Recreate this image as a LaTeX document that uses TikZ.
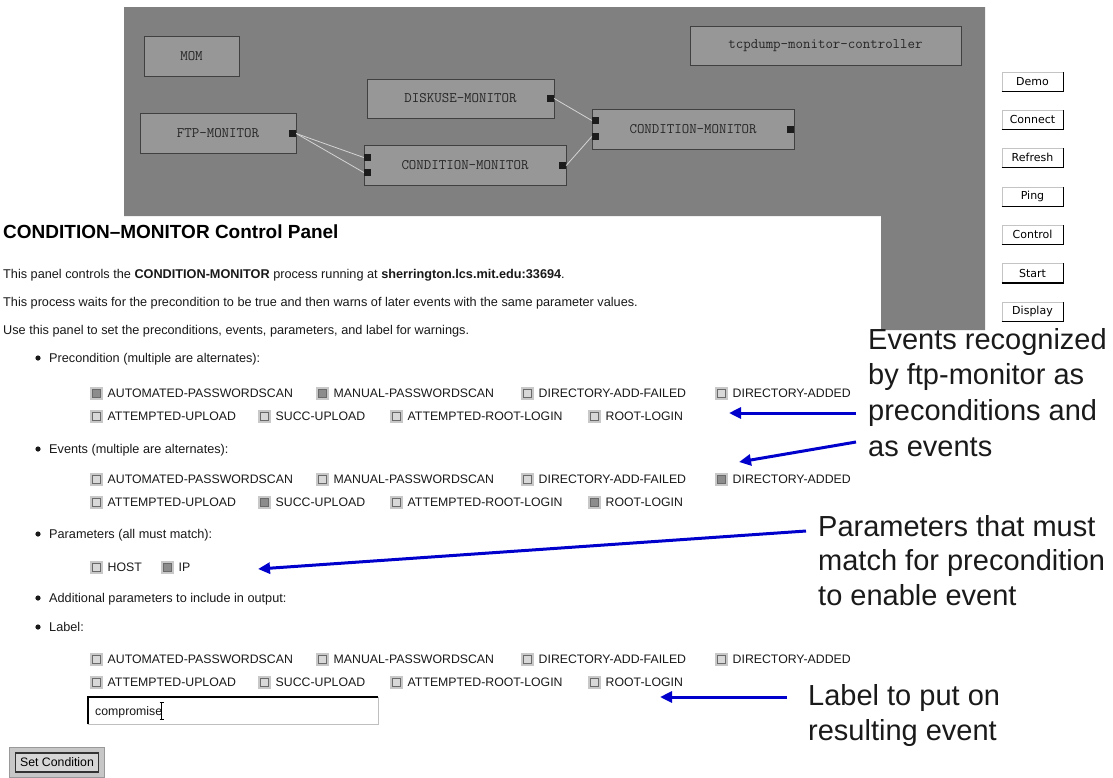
\documentclass[tikz,border=0pt]{standalone}
\usepackage{fontspec}
\setmainfont{Liberation Sans}
\newfontfamily\dejavu{DejaVu Sans}
\usetikzlibrary{arrows.meta}
\definecolor{bggray}{HTML}{808080}
\definecolor{boxfill}{HTML}{979797}
\definecolor{boxedge}{HTML}{404040}
\definecolor{linkc}{HTML}{D4D4D4}
\definecolor{portc}{HTML}{1C1C1C}
\definecolor{arrowblue}{HTML}{0000CC}
\definecolor{anntext}{HTML}{1A1A1A}
\definecolor{cbouter}{HTML}{C8C8C8}
\definecolor{cbinner}{HTML}{D8D8D8}
\definecolor{cbfillon}{HTML}{8C8C8C}
\definecolor{cbedge}{HTML}{6A6A6A}
\definecolor{btnedge}{HTML}{C4C4C4}
\tikzset{
  mbox/.style={draw=boxedge, fill=boxfill, line width=1pt, inner sep=0pt,
    font=\fontsize{14.5}{15}\selectfont\ttfamily, text=black!85},
  port/.style={fill=portc, minimum size=7pt, inner sep=0pt},
  link/.style={draw=linkc, line width=0.8pt},
  rbtn/.style={fill=white, draw=btnedge, line width=1pt, minimum width=61pt,
    minimum height=19pt, inner sep=0pt, font=\dejavu\fontsize{11}{12}\selectfont},
  cbase/.style={fill=cbouter, minimum size=13pt, inner sep=0pt},
  cboff/.style={cbase, path picture={\draw[cbedge, fill=cbinner, line width=0.8pt]
    ([shift={(2.5pt,-2.5pt)}]path picture bounding box.north west) rectangle
    ([shift={(-2.5pt,2.5pt)}]path picture bounding box.south east);}},
  cbon/.style={cbase, path picture={\draw[cbedge, fill=cbfillon, line width=0.8pt]
    ([shift={(2.5pt,-2.5pt)}]path picture bounding box.north west) rectangle
    ([shift={(-2.5pt,2.5pt)}]path picture bounding box.south east);}},
  lab/.style={font=\fontsize{12.3}{14}\selectfont, inner sep=0pt, anchor=base west, text=black!90},
  body/.style={font=\fontsize{12.7}{15}\selectfont, inner sep=0pt, anchor=base west, text=black!90},
  ann/.style={font=\fontsize{29}{34}\selectfont, inner sep=0pt, anchor=base west, text=anntext},
  arr/.style={draw=arrowblue, line width=3pt, -{Triangle[length=12pt,width=11pt]}},
  bullet/.style={fill=black!90}
}
\newcommand{\chk}[5]{%
  \node[cb#5] (#1) at (#2+6.5,#3) {};
  \node[lab] (#1t) at (#2+17.5,#3+4.3) {#4};}
\begin{document}
\begin{tikzpicture}[x=1pt,y=-1pt]
\useasboundingbox (0,0) rectangle (1113,777);
\fill[white] (0,0) rectangle (1113,777);
% gray canvas
\fill[bggray] (124,7) -- (985,7) -- (985,330) -- (881,330) -- (881,216) -- (124,216) -- cycle;
% monitor boxes
\node[mbox, minimum width=95pt, minimum height=40pt] (mom) at (191.5,56) {MOM};
\node[mbox, minimum width=187pt, minimum height=39pt] (disk) at (460.5,98.5) {DISKUSE-MONITOR};
\node[mbox, minimum width=156pt, minimum height=40pt] (ftp) at (218,133) {FTP-MONITOR};
\node[mbox, minimum width=202pt, minimum height=40pt] (cma) at (465,165) {CONDITION-MONITOR};
\node[mbox, minimum width=202pt, minimum height=40pt] (cmb) at (693,129) {CONDITION-MONITOR};
\node[mbox, minimum width=271pt, minimum height=39pt] (tcp) at (825.5,45.5) {tcpdump-monitor-controller};
% ports
\node[port] (ftpout) at (292.5,133.5) {};
\node[port] (diskout) at (550.5,98.5) {};
\node[port] (cmain1) at (367.5,157.5) {};
\node[port] (cmain2) at (367.5,172.5) {};
\node[port] (cmaout) at (562.5,165.5) {};
\node[port] (cmbin1) at (595.5,120.5) {};
\node[port] (cmbin2) at (595.5,136.5) {};
\node[port] (cmbout) at (790.5,129) {};
% links
\draw[link] (ftpout.east) -- (cmain1.west);
\draw[link] (ftpout.east) -- (cmain2.west);
\draw[link] (diskout.east) -- (cmbin1.west);
\draw[link] (cmaout.east) -- (cmbin2.west);
% right buttons
\node[rbtn] (demo) at (1032.5,81.5) {Demo};
\node[rbtn] (connect) at (1032.5,119.5) {Connect};
\node[rbtn] (refresh) at (1032.5,157.5) {Refresh};
\node[rbtn] (ping) at (1032.5,196.5) {Ping};
\node[rbtn] (control) at (1032.5,234.5) {Control};
\node[rbtn] (start) at (1032.5,273) {Start};
\node[rbtn] (display) at (1032.5,311.5) {Display};
\foreach \b in {demo,connect,refresh,ping,control,start,display}
  \draw[black, line width=1.5pt] (\b.south west) -- (\b.south east) -- (\b.north east);
% panel texts
\node[inner sep=0pt, anchor=base west, font=\fontsize{19}{22}\selectfont\bfseries] (title) at (3,238) {CONDITION–MONITOR Control Panel};
\node[body] (l1) at (3,278) {This panel controls the \textbf{CONDITION-MONITOR} process running at \textbf{sherrington.lcs.mit.edu:33694}.};
\node[body] (l2) at (3,306) {This process waits for the precondition to be true and then warns of later events with the same parameter values.};
\node[body] (l3) at (3,334) {Use this panel to set the preconditions, events, parameters, and label for warnings.};
\fill[bullet] (38,358) circle (2.6pt);
\node[body] (h1) at (49,362.5) {Precondition (multiple are alternates):};
\fill[bullet] (38,449) circle (2.6pt);
\node[body] (h2) at (49,453.5) {Events (multiple are alternates):};
\fill[bullet] (38,534) circle (2.6pt);
\node[body] (h3) at (49,538.5) {Parameters (all must match):};
\fill[bullet] (38,598) circle (2.6pt);
\node[body] (h4) at (49,602.5) {Additional parameters to include in output:};
\fill[bullet] (38,627) circle (2.6pt);
\node[body] (h5) at (49,631.5) {Label:};
% precondition checkboxes
\chk{pa1}{90}{393}{AUTOMATED-PASSWORDSCAN}{on}
\chk{pa2}{316}{393}{MANUAL-PASSWORDSCAN}{on}
\chk{pa3}{521}{393}{DIRECTORY-ADD-FAILED}{off}
\chk{pa4}{715}{393}{DIRECTORY-ADDED}{off}
\chk{pb1}{90}{416}{ATTEMPTED-UPLOAD}{off}
\chk{pb2}{258}{416}{SUCC-UPLOAD}{off}
\chk{pb3}{390}{416}{ATTEMPTED-ROOT-LOGIN}{off}
\chk{pb4}{588}{416}{ROOT-LOGIN}{off}
% events checkboxes
\chk{ea1}{90}{479}{AUTOMATED-PASSWORDSCAN}{off}
\chk{ea2}{316}{479}{MANUAL-PASSWORDSCAN}{off}
\chk{ea3}{521}{479}{DIRECTORY-ADD-FAILED}{off}
\chk{ea4}{715}{479}{DIRECTORY-ADDED}{on}
\chk{eb1}{90}{502}{ATTEMPTED-UPLOAD}{off}
\chk{eb2}{258}{502}{SUCC-UPLOAD}{on}
\chk{eb3}{390}{502}{ATTEMPTED-ROOT-LOGIN}{off}
\chk{eb4}{588}{502}{ROOT-LOGIN}{on}
% parameters
\chk{prh}{90}{567}{HOST}{off}
\chk{pri}{161}{567}{IP}{on}
% label checkboxes
\chk{la1}{90}{659}{AUTOMATED-PASSWORDSCAN}{off}
\chk{la2}{316}{659}{MANUAL-PASSWORDSCAN}{off}
\chk{la3}{521}{659}{DIRECTORY-ADD-FAILED}{off}
\chk{la4}{715}{659}{DIRECTORY-ADDED}{off}
\chk{lb1}{90}{682}{ATTEMPTED-UPLOAD}{off}
\chk{lb2}{258}{682}{SUCC-UPLOAD}{off}
\chk{lb3}{390}{682}{ATTEMPTED-ROOT-LOGIN}{off}
\chk{lb4}{588}{682}{ROOT-LOGIN}{off}
% text field
\node[fill=white, minimum width=290pt, minimum height=27pt, inner sep=0pt, anchor=north west] (tf) at (88,697) {};
\draw[black!25, line width=1.5pt] (tf.south west) -- (tf.south east) -- (tf.north east);
\draw[black, line width=2pt] (tf.south west) -- (tf.north west) -- (tf.north east);
\node[lab] (tftext) at (95,715) {compromise};
\draw[black, line width=0.9pt] (161.5,702) -- (161.5,719) (159.5,702) -- (163.5,702) (159.5,719) -- (163.5,719);
% set condition button
\node[fill=black!22, draw=black!40, line width=1pt, minimum width=95pt, minimum height=30pt, inner sep=0pt, anchor=north west] (scframe) at (9,747) {};
\node[fill=black!16, draw=black!80, line width=1.2pt, minimum width=83pt, minimum height=19pt, inner sep=0pt, font=\fontsize{12.3}{14}\selectfont] (setcond) at (scframe.center) {Set Condition};
% annotations
\node[ann] (n1a) at (868,349) {Events recognized};
\node[ann] (n1b) at (868,384.5) {by ftp-monitor as};
\node[ann] (n1c) at (868,420) {preconditions and};
\node[ann] (n1d) at (868,456) {as events};
\node[ann] (n2a) at (818,536) {Parameters that must};
\node[ann] (n2b) at (818,570.5) {match for precondition};
\node[ann] (n2c) at (818,605) {to enable event};
\node[ann] (n3a) at (808,705) {Label to put on};
\node[ann] (n3b) at (808,740) {resulting event};
% arrows
\coordinate (t1) at (856,413); \coordinate (h1tip) at (729,413);
\coordinate (t2) at (856,442); \coordinate (h2tip) at (739,462);
\coordinate (t3) at (806,531); \coordinate (h3tip) at (258,569);
\coordinate (t4) at (787,697); \coordinate (h4tip) at (660,697);
\draw[arr] (t1) -- (h1tip);
\draw[arr] (t2) -- (h2tip);
\draw[arr] (t3) -- (h3tip);
\draw[arr] (t4) -- (h4tip);
\end{tikzpicture}
\end{document}
